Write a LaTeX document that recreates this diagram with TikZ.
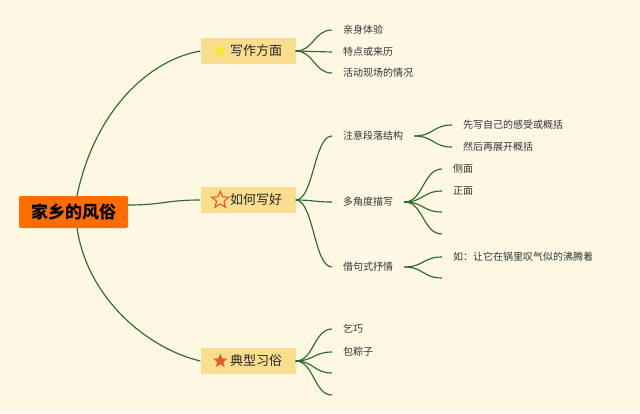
\documentclass[tikz,border=0pt]{standalone}
\usepackage{fontspec}
\setmainfont{Noto Sans CJK SC}
\usepackage{tikz}
\usetikzlibrary{shapes.geometric,positioning}
\definecolor{paper}{HTML}{FDF7E4}
\definecolor{rootcol}{HTML}{FF6D00}
\definecolor{boxcol}{HTML}{F9DE8F}
\definecolor{linecol}{HTML}{2C6B29}
\definecolor{starcol}{HTML}{E55A2B}
\definecolor{suncol}{HTML}{F3E838}
\tikzset{
  root/.style={fill=rootcol, rounded corners=2pt, minimum width=109pt, minimum height=32pt,
    font=\fontsize{17}{20}\selectfont\bfseries, text=black},
  topic/.style={fill=boxcol, minimum width=95pt, minimum height=26pt,
    font=\fontsize{13}{15}\selectfont, text=black!85},
  leaf/.style={anchor=west, inner xsep=11pt, inner ysep=2pt,
    font=\fontsize{10}{12}\selectfont, text=black!80},
  branch/.style={draw=linecol, line width=1.15pt},
}

\begin{document}
\begin{tikzpicture}[x=1pt, y=-1pt]
\fill[paper] (0,0) rectangle (640,413);
\useasboundingbox (0,0) rectangle (640,413);

\node[root] (root) at (73.5,212) {家乡的风俗};

\node[topic] (b1) at (248,51) {\hspace{16pt}写作方面};
\node[topic] (b2) at (248,200) {\hspace{16pt}如何写好};
\node[topic] (b3) at (248,361) {\hspace{16pt}典型习俗};

\node[circle, fill=suncol, minimum size=10pt, inner sep=0pt] (i1) at ([xshift=20pt]b1.west) {};
\node[star, star points=5, star point ratio=2.3, draw=starcol, line width=1.1pt,
  minimum size=18pt, inner sep=0pt] (i2) at ([xshift=20pt]b2.west) {};
\node[star, star points=5, star point ratio=2.3, fill=starcol,
  minimum size=15pt, inner sep=0pt] (i3) at ([xshift=20pt]b3.west) {};

\draw[branch] ([xshift=3.5pt]root.north) .. controls +(18,-86) and +(-51,9) .. (b1.west);
\draw[branch] ([yshift=7pt]root.east) .. controls +(35,0) and +(-35,0) .. (b2.west);
\draw[branch] ([xshift=3.5pt]root.south) .. controls +(11,72) and +(-51,-12) .. (b3.west);

\node[leaf] (l11) at (332,30) {亲身体验};
\node[leaf] (l12) at (332,52) {特点或来历};
\node[leaf] (l13) at (332,73) {活动现场的情况};

\draw[branch] (b1.east) .. controls +(18,0) and +(-18,0) .. (l11.west);
\draw[branch] (b1.east) .. controls +(18,0) and +(-18,0) .. (l12.west);
\draw[branch] (b1.east) .. controls +(18,0) and +(-18,0) .. (l13.west);

\node[leaf] (l21) at (332,136) {注意段落结构};
\node[leaf] (l22) at (332,202) {多角度描写};
\node[leaf] (l23) at (332,267) {借句式抒情};

\draw[branch] (b2.east) .. controls +(18,0) and +(-18,0) .. (l21.west);
\draw[branch] (b2.east) .. controls +(18,0) and +(-18,0) .. (l22.west);
\draw[branch] (b2.east) .. controls +(18,0) and +(-18,0) .. (l23.west);

\node[leaf] (l211) at (452,125) {先写自己的感受或概括};
\node[leaf] (l212) at (452,147) {然后再展开概括};

\draw[branch] (l21.east) .. controls +(19,0) and +(-19,0) .. (l211.west);
\draw[branch] (l21.east) .. controls +(19,0) and +(-19,0) .. (l212.west);

\node[leaf] (l221) at (442,169) {侧面};
\node[leaf] (l222) at (442,191) {正面};
\coordinate (c1) at (442,212);
\coordinate (c2) at (442,234);

\draw[branch] (l22.east) .. controls +(19,0) and +(-19,0) .. (l221.west);
\draw[branch] (l22.east) .. controls +(19,0) and +(-19,0) .. (l222.west);
\draw[branch] (l22.east) .. controls +(19,0) and +(-19,0) .. (c1);
\draw[branch] (l22.east) .. controls +(19,0) and +(-19,0) .. (c2);

\node[leaf] (l231) at (442,257) {如：让它在锅里叹气似的沸腾着};
\coordinate (c3) at (442,278);

\draw[branch] (l23.east) .. controls +(19,0) and +(-19,0) .. (l231.west);
\draw[branch] (l23.east) .. controls +(19,0) and +(-19,0) .. (c3);

\node[leaf] (l31) at (332,329) {乞巧};
\node[leaf] (l32) at (332,352) {包粽子};
\coordinate (c4) at (332,373);
\coordinate (c5) at (332,395);

\draw[branch] (b3.east) .. controls +(18,0) and +(-18,0) .. (l31.west);
\draw[branch] (b3.east) .. controls +(18,0) and +(-18,0) .. (l32.west);
\draw[branch] (b3.east) .. controls +(18,0) and +(-18,0) .. (c4);
\draw[branch] (b3.east) .. controls +(18,0) and +(-18,0) .. (c5);

\end{tikzpicture}
\end{document}
